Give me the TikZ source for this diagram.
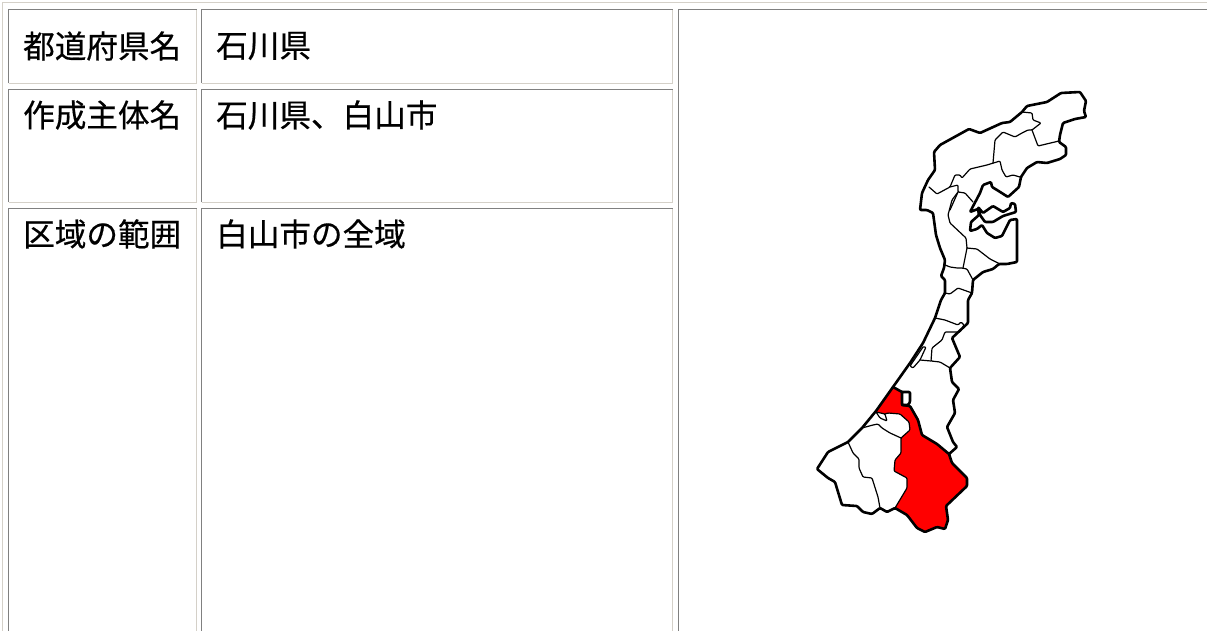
\documentclass[tikz,border=0pt]{standalone}
\usepackage{fontspec}
\setmainfont[FakeBold=0.5]{Noto Sans CJK JP}
\definecolor{cdark}{HTML}{808080}
\definecolor{clight}{HTML}{D4D0C8}
\tikzset{
  lbl/.style={anchor=west,inner sep=0pt,font=\fontsize{31.6}{32}\selectfont,text=black},
  coast/.style={draw=black,line width=2.6pt,line join=round,line cap=round,rounded corners=1pt},
  pref/.style={draw=black,line width=1.2pt,line join=round,line cap=round,rounded corners=1pt},
}
\newcommand{\cellbox}[4]{%
  \draw[clight,line width=1pt] (#3,#2) -- (#3,#4) -- (#1,#4);
  \draw[cdark,line width=1pt] (#1,#4) -- (#1,#2) -- (#3,#2);}
\begin{document}
\begin{tikzpicture}[x=1pt,y=-1pt]
\useasboundingbox (0,0) rectangle (1207,631);
\fill[white] (0,0) rectangle (1207,631);
\draw[clight,line width=1pt] (2.5,640) -- (2.5,2.5) -- (1210,2.5);
\cellbox{8.5}{9.5}{196.5}{83.5}
\cellbox{201.5}{9.5}{672.5}{83.5}
\cellbox{8.5}{89.5}{196.5}{202.5}
\cellbox{201.5}{89.5}{672.5}{202.5}
\cellbox{8.5}{208.5}{196.5}{640}
\cellbox{201.5}{208.5}{672.5}{640}
\cellbox{678.5}{9.5}{1215}{640}
\node[lbl] (a1) at (23,46) {都道府県名};
\node[lbl] (b1) at (216,46) {石川県};
\node[lbl] (a2) at (23,115) {作成主体名};
\node[lbl] (b2) at (216,115) {石川県、白山市};
\node[lbl] (a3) at (23,234) {区域の範囲};
\node[lbl] (b3) at (216,234) {白山市の全域};
% red region
\fill[red] (893,387) -- (902,392) -- (902,405) -- (910,406) -- (918,420) -- (922,435) -- (937,444) -- (949,454) -- (952,463) -- (967,478) -- (967,486) -- (946,506) -- (948,520) -- (945,529) -- (937,527) -- (925,532) -- (917,528) -- (907,515) -- (895,508) -- (907,488) -- (907,478) -- (894,471) -- (895,460) -- (901,453) -- (901,438) -- (910,430) -- (909,422) -- (900,414) -- (888,413) -- (885,414) -- (876,412) -- cycle;
% interior lines
\draw[pref] (876,412) -- (885,414) -- (887,421) -- (880,418) -- (876,412);
\draw[pref] (885,414) -- (888,413) -- (900,414) -- (909,422) -- (910,430) -- (901,438) -- (901,453) -- (895,460) -- (894,471) -- (907,478) -- (907,488) -- (895,508);
\draw[pref] (862,428) -- (873,425) -- (878,424) -- (882,428) -- (890,433) -- (901,438);
\draw[pref] (848,442) -- (853,453) -- (859,459) -- (859,468) -- (863,477) -- (872,478) -- (878,497) -- (880,508);
\draw[coast] (893,387) -- (902,392) -- (910,392) -- (910,402) -- (908,405) -- (902,405) -- (902,392);
\draw[coast] (902,405) -- (910,406) -- (918,420) -- (922,435) -- (937,444) -- (949,454);
\draw[pref] (935,318) -- (945,320) -- (958,325) -- (961,322) -- (964,325) -- (960,332) -- (945,332) -- (942,340) -- (932,348) -- (931,361) -- (940,362) -- (950,368);
\draw[pref] (923,347) -- (926,347) -- (920,360) -- (913,368) -- (910,366) -- (923,347);
\draw[pref] (920,360) -- (931,361);
\draw[pref] (945,265) -- (950,267) -- (957,268) -- (962,268) -- (967,269) -- (973,280);
\draw[pref] (945,293) -- (950,294) -- (958,288) -- (972,293);
\draw[pref] (967,248) -- (963,268);
\draw[pref] (967,248) -- (977,249) -- (990,259) -- (1000,264);
\draw[pref] (967,248) -- (966,238) -- (950,223) -- (948,215) -- (952,200) -- (958,192);
\draw[pref] (929,187) -- (937,194) -- (950,187) -- (955,175) -- (960,175) -- (962,178) -- (970,169) -- (987,165) -- (1000,161) -- (1002,170) -- (1006,177) -- (1013,175) -- (1020,177);
\draw[pref] (993,163) -- (995,140) -- (1003,132) -- (1015,137) -- (1022,133) -- (1028,130) -- (1032,130) -- (1041,123) -- (1033,120) -- (1032,113) -- (1022,112);
\draw[pref] (1032,130) -- (1038,146) -- (1059,141);
\draw[pref] (950,187) -- (958,185) -- (958,192) -- (965,193) -- (973,202);
\draw[pref] (958,192) -- (950,210);
% island
\draw[coast] (978,207) -- (983,213) -- (993,206) -- (1003,212) -- (1010,208) -- (1011,203) -- (1015,204) -- (1016,212) -- (1003,216) -- (993,222) -- (985,222) -- (980,215) -- cycle;
% coast
\draw[coast] (1061,93) -- (1080,92) -- (1086,101) -- (1084,111) -- (1086,117) -- (1075,119) -- (1063,123) -- (1060,135) -- (1059,142) -- (1066,147) -- (1066,155) -- (1060,159) -- (1047,163) -- (1037,162) -- (1027,168) -- (1021,177) -- (1019,187) -- (1008,197) -- (997,190) -- (992,187) -- (991,182) -- (983,185) -- (980,193) -- (970,212) -- (978,209) -- (979,215) -- (971,222) -- (970,231) -- (977,229) -- (982,225) -- (987,233) -- (995,238) -- (1002,236) -- (1010,220) -- (1017,219) -- (1017,262) -- (1007,264) -- (999,264) -- (993,269) -- (983,272) -- (973,280) -- (972,293) -- (968,300) -- (968,323) -- (952,338) -- (960,357) -- (950,368) -- (952,382) -- (959,389) -- (953,400) -- (955,413) -- (947,427) -- (953,442) -- (957,447) -- (949,454) -- (952,463) -- (967,478) -- (967,486) -- (946,506) -- (948,520) -- (945,529) -- (937,527) -- (925,532) -- (917,528) -- (907,515) -- (895,508) -- (887,512) -- (880,508) -- (872,514) -- (863,512) -- (857,506) -- (842,505) -- (835,482) -- (828,478) -- (817,469) -- (828,452) -- (848,442) -- (862,428) -- (876,411) -- (893,387) -- (910,363) -- (923,343) -- (935,318) -- (941,300) -- (945,293) -- (945,280) -- (941,276) -- (944,268) -- (945,260) -- (940,248) -- (936,235) -- (933,213) -- (927,210) -- (920,210) -- (922,193) -- (928,180) -- (935,170) -- (934,152) -- (940,145) -- (969,129) -- (980,133) -- (1002,123) -- (1010,122) -- (1022,112) -- (1027,106) -- (1047,102) -- cycle;
\end{tikzpicture}
\end{document}
